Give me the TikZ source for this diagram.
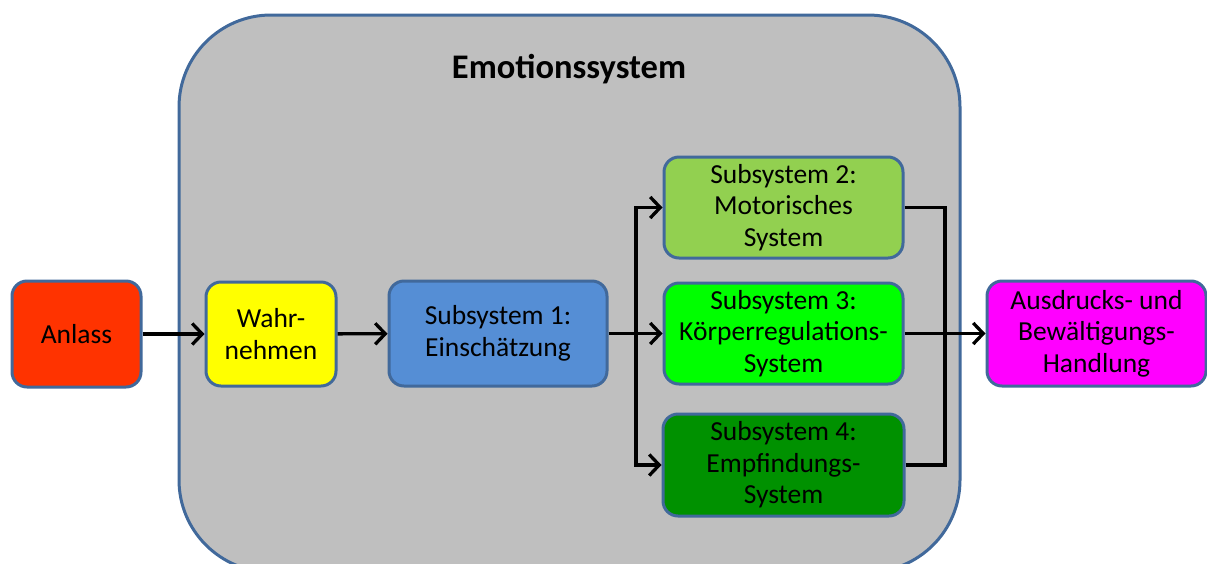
\documentclass[tikz,border=0pt]{standalone}
\usepackage{fontspec}
\setmainfont{Carlito}
\usetikzlibrary{arrows.meta}
\definecolor{bord}{RGB}{65,105,155}
\definecolor{grayfill}{RGB}{191,191,191}
\definecolor{cAnlass}{RGB}{255,51,0}
\definecolor{cWahr}{RGB}{255,255,0}
\definecolor{cS1}{RGB}{85,142,213}
\definecolor{cS2}{RGB}{146,208,80}
\definecolor{cS3}{RGB}{0,255,0}
\definecolor{cS4}{RGB}{0,145,0}
\definecolor{cOut}{RGB}{255,0,255}
\tikzset{
  box/.style={draw=bord, line width=3pt, rounded corners=15pt, align=center,
    font=\fontsize{27.5}{31.5}\selectfont, inner sep=0pt},
  arr/.style={line width=3.3pt, -{Straight Barb[length=10pt,width=21pt,line width=3.3pt]}},
  conn/.style={line width=3.3pt},
}
\begin{document}
\begin{tikzpicture}[x=1pt,y=-1pt]
\useasboundingbox (0,0) rectangle (1207,563);
\begin{scope}
\clip (0,0) rectangle (1207,563);
\draw[draw=bord, fill=grayfill, line width=3pt, rounded corners=92pt] (179,15) rectangle (960,572);
\end{scope}
\node[font=\fontsize{34.5}{38}\selectfont\bfseries] (title) at (569,69) {Emotionssystem};

\node[box, fill=cAnlass, minimum width=129pt, minimum height=106pt] (anlass) at (76.5,334) {Anlass};
\node[box, fill=cWahr, minimum width=130pt, minimum height=104pt] (wahr) at (271,334) {Wahr-\\nehmen};
\node[box, fill=cS1, minimum width=218pt, minimum height=105pt] (s1) at (498,333.5) {Subsystem 1:\\Einschätzung};
\node[box, fill=cS2, minimum width=239pt, minimum height=101pt] (s2) at (783.5,207.5) {Subsystem 2:\\Motorisches\\System};
\node[box, fill=cS3, minimum width=239pt, minimum height=101pt] (s3) at (783.5,333.5) {Subsystem 3:\\Körperregulations-\\System};
\node[box, fill=cS4, minimum width=241pt, minimum height=102pt] (s4) at (783.5,465) {Subsystem 4:\\Empfindungs-\\System};
\node[box, fill=cOut, minimum width=219pt, minimum height=105pt] (out) at (1096.5,333.5) {Ausdrucks- und\\Bewältigungs-\\Handlung};

\coordinate (split) at (636,333.5);
\coordinate (join) at (945,333.5);

\draw[arr] (anlass) -- (wahr);
\draw[arr] (wahr) -- (s1);
\draw[arr] (s1) -- (s3);
\draw[arr] (split) |- (s2);
\draw[arr] (split) |- (s4);
\draw[conn] (s2) -| (join);
\draw[conn] (s4) -| (join);
\draw[arr] (s3) -- (out);
\end{tikzpicture}
\end{document}
